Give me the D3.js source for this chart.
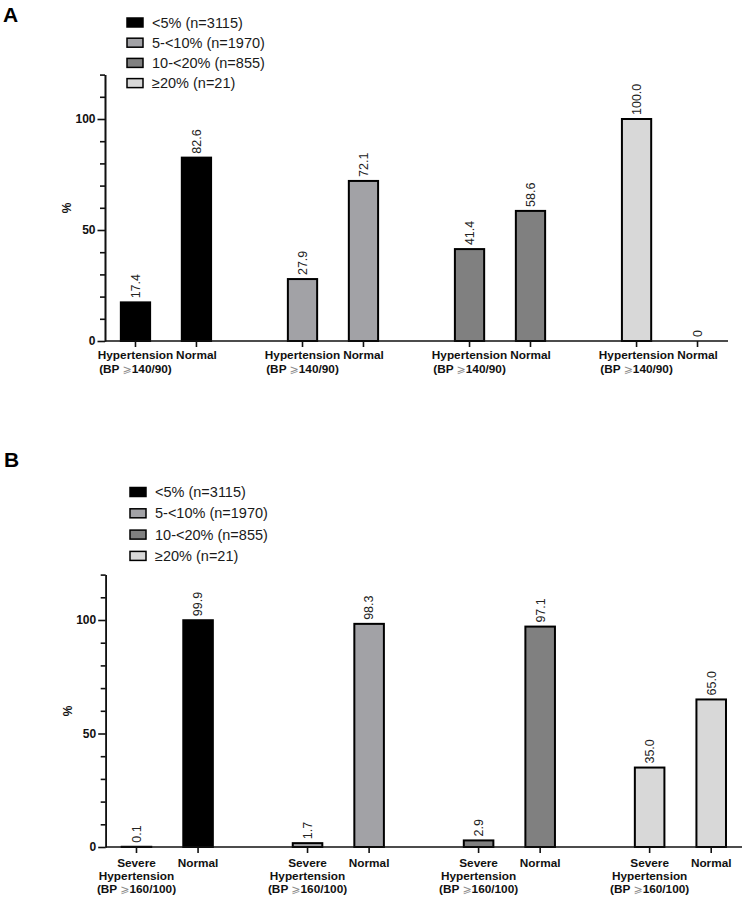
<!DOCTYPE html>
<html>
<head>
<meta charset="utf-8">
<script src="https://cdn.jsdelivr.net/npm/d3@7/dist/d3.min.js"></script>
<style>
  html, body { margin: 0; padding: 0; background: #fff; }
  svg { display: block; font-family: "Liberation Sans", Arial, sans-serif; }
</style>
</head>
<body>
<svg id="chart" width="746" height="898"></svg>
<script>
// ---------- DATA ----------
const groupLabels = ["<5% (n=3115)", "5-<10% (n=1970)", "10-<20% (n=855)", "\u226520% (n=21)"];
const groupColors = ["#000000", "#a2a2a6", "#808080", "#d8d8d8"];

const categoriesA = ["Hypertension", "Normal"];
const hypertensionA = [17.4, 27.9, 41.4, 100.0];
const normalA = [82.6, 72.1, 58.6, 0];
const tickLabelA = [["Hypertension", "(BP \u2A7E140/90)"], ["Normal"]];

const categoriesB = ["Severe Hypertension", "Normal"];
const severeB = [0.1, 1.7, 2.9, 35.0];
const normalB = [99.9, 98.3, 97.1, 65.0];
const tickLabelB = [["Severe", "Hypertension", "(BP \u2A7E160/100)"], ["Normal"]];

const yMajorTicks = [0, 50, 100];
const yMinorTicks = [10, 20, 30, 40, 60, 70, 80, 90, 110, 120];
const yMax = 120;

// ---------- DRAW ----------
const svg = d3.select("#chart");
const fmt = d3.format(".1f");

function panel(opt) {
  const g = svg.append("g");
  const y = d3.scaleLinear().domain([0, yMax]).range([opt.y0, opt.yTop]);
  const outer = d3.scaleBand().domain(d3.range(groupLabels.length))
    .range([opt.xLeft, opt.xRight]).paddingInner(opt.padInner).paddingOuter(0);
  const inner = d3.scaleBand().domain(opt.categories).range([0, outer.bandwidth()]).padding(0);
  const barW = inner.bandwidth() * 0.48;

  const rows = [];
  groupLabels.forEach((gl, i) => {
    opt.categories.forEach((c, j) => {
      const v = j === 0 ? opt.first[i] : opt.second[i];
      rows.push({gi: i, cat: c, ci: j, v: v});
    });
  });
  const cx = d => outer(d.gi) + inner(d.cat) + inner.bandwidth() / 2;

  // bars
  g.selectAll("rect.bar").data(rows.filter(d => d.v > 0)).join("rect")
    .attr("class", "bar")
    .attr("x", d => cx(d) - barW / 2)
    .attr("width", barW)
    .attr("y", d => y(d.v))
    .attr("height", d => y(0) - y(d.v))
    .attr("fill", d => groupColors[d.gi])
    .attr("stroke", "#000")
    .attr("stroke-width", 2);

  // value labels
  g.selectAll("text.val").data(rows).join("text")
    .attr("class", "val")
    .attr("transform", d => `translate(${cx(d)},${y(d.v) - 4}) rotate(-90)`)
    .attr("dy", "0.35em")
    .attr("text-anchor", "start")
    .attr("font-size", 12.5)
    .attr("fill", "#222")
    .text(d => d.v === 0 ? "0" : fmt(d.v));

  // y axis
  const yMinor = d3.axisLeft(y).tickValues(yMinorTicks).tickSize(5).tickFormat(() => "").tickSizeOuter(0);
  const yMajor = d3.axisLeft(y).tickValues(yMajorTicks).tickSize(7.5).tickPadding(2).tickSizeOuter(0)
    .tickFormat(d3.format("d"));
  const ga1 = g.append("g").attr("transform", `translate(${opt.xLeft},0)`).call(yMinor);
  const ga2 = g.append("g").attr("transform", `translate(${opt.xLeft},0)`).call(yMajor);
  [ga1, ga2].forEach(a => {
    a.selectAll("path, line").attr("stroke", "#111").attr("stroke-width", 1.6);
    a.selectAll("text").attr("font-size", 12).attr("font-weight", "bold").attr("fill", "#111")
      .attr("font-family", "Liberation Sans, Arial, sans-serif");
  });

  // y label
  g.append("text")
    .attr("transform", `translate(${opt.xLeft - 38},${(y(0) + y(yMax)) / 2}) rotate(-90)`)
    .attr("text-anchor", "middle").attr("dy", "0.35em")
    .attr("font-size", 12).attr("font-weight", "bold").attr("fill", "#111")
    .text("%");

  // x axis
  const gx = g.append("g").attr("transform", `translate(0,${y(0)})`);
  gx.append("line").attr("x1", opt.xLeft).attr("x2", opt.xRight)
    .attr("stroke", "#111").attr("stroke-width", 1.6);
  gx.selectAll("line.tick").data(rows).join("line").attr("class", "tick")
    .attr("x1", cx).attr("x2", cx).attr("y1", 0).attr("y2", 6)
    .attr("stroke", "#111").attr("stroke-width", 1.6);

  rows.forEach(d => {
    const lines = opt.tickLabels[d.ci];
    lines.forEach((l, k) => {
      const t = gx.append("text")
        .attr("x", cx(d)).attr("y", opt.labelY0 + k * opt.lineH)
        .attr("text-anchor", "middle")
        .attr("font-size", 11.8).attr("font-weight", "bold").attr("fill", "#111");
      const parts = l.split("\u2A7E");
      if (parts.length === 2) {
        t.append("tspan").text(parts[0]);
        t.append("tspan").attr("font-weight", "normal").attr("fill", "#888")
          .attr("font-family", "DejaVu Sans, sans-serif").attr("font-size", 11).text("\u2A7E");
        t.append("tspan").text(parts[1]);
      } else {
        t.text(l);
      }
    });
  });

  // legend
  const lg = g.append("g").attr("transform", `translate(${opt.legX},${opt.legY})`);
  const li = lg.selectAll("g").data(groupLabels).join("g")
    .attr("transform", (d, i) => `translate(0,${i * opt.legStep})`);
  li.append("rect").attr("x", 0).attr("y", -4.5).attr("width", 16).attr("height", 9)
    .attr("fill", (d, i) => groupColors[i]).attr("stroke", "#000").attr("stroke-width", 1.5);
  li.append("text").attr("x", 25).attr("y", 0).attr("dy", "0.35em")
    .attr("font-size", 14.5).attr("fill", "#1a1a1a").text(d => d);

  // panel letter
  svg.append("text").attr("x", opt.letterX).attr("y", opt.letterY)
    .attr("font-size", 21).attr("font-weight", "bold").attr("fill", "#000").text(opt.letter);
}

panel({
  letter: "A", letterX: 3, letterY: 22,
  y0: 341, yTop: 74.6, xLeft: 105, xRight: 728, padInner: 0.27,
  categories: categoriesA, first: hypertensionA, second: normalA,
  tickLabels: tickLabelA, labelY0: 18, lineH: 13.5,
  legX: 127, legY: 22.5, legStep: 20.2
});

panel({
  letter: "B", letterX: 4, letterY: 467,
  y0: 847, yTop: 574.6, xLeft: 105.7, xRight: 742, padInner: 0.28,
  categories: categoriesB, first: severeB, second: normalB,
  tickLabels: tickLabelB, labelY0: 20, lineH: 13,
  legX: 130, legY: 492, legStep: 21.3
});
</script>
</body>
</html>
